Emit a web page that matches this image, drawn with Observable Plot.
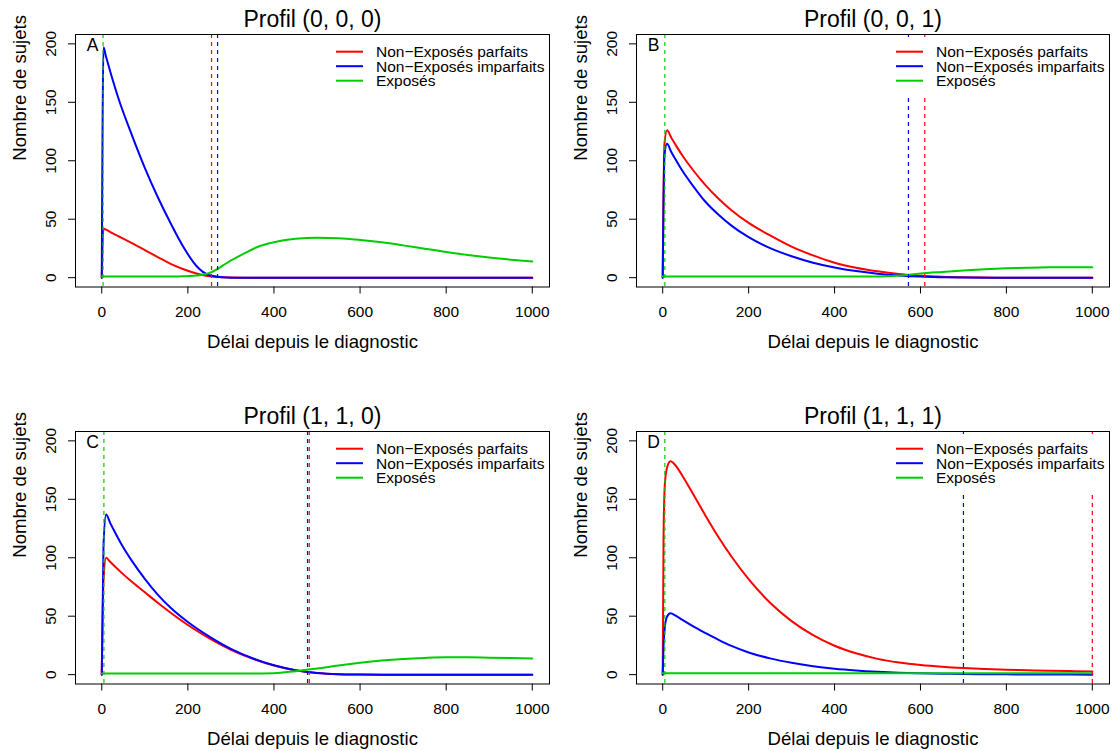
<!DOCTYPE html>
<html><head><meta charset="utf-8">
<script src="https://cdn.jsdelivr.net/npm/d3@7"></script>
<script src="https://cdn.jsdelivr.net/npm/@observablehq/plot@0.6"></script>
<style>
body{margin:0;background:#fff;width:1114px;height:751px;overflow:hidden;position:relative;font-family:"Liberation Sans",Arial,sans-serif}
.panel{position:absolute}
</style></head><body>
<script>
const seriesNames = ["Non\u2212Exposés parfaits", "Non\u2212Exposés imparfaits", "Exposés"];
const seriesColors = ["#ff0000", "#0000ff", "#00cd00"];
const panelTitles = ["Profil (0, 0, 0)", "Profil (0, 0, 1)", "Profil (1, 1, 0)", "Profil (1, 1, 1)"];
const panelLetters = ["A", "B", "C", "D"];
const xLabel = "Délai depuis le diagnostic";
const yLabel = "Nombre de sujets";
const xTicks = [0, 200, 400, 600, 800, 1000];
const yTicks = [0, 50, 100, 150, 200];

// Panel A : Profil (0, 0, 0)
const xA = [0, 4, 10, 20, 40, 70, 100, 130, 160, 190, 220, 250, 280, 300, 330, 360, 400, 450, 500, 550, 600, 650, 700, 750, 800, 850, 900, 950, 1000];
const redA = [0, 42, 41, 39, 35.2, 29.5, 23.6, 17.6, 11.8, 7.2, 3.6, 1.2, 0.3, 0.1, 0, 0, 0, 0, 0, 0, 0, 0, 0, 0, 0, 0, 0, 0, 0];
const blueA = [0, 197, 189, 176, 152, 122, 94, 69, 46.5, 26, 10, 2, 0.3, 0, 0, 0, 0, 0, 0, 0, 0, 0, 0, 0, 0, 0, 0, 0, 0];
const greenA = [1, 1, 1, 1, 1, 1, 1, 1, 1, 1.1, 1.8, 4, 10, 14.7, 20.5, 26, 30.3, 33.2, 34.2, 33.8, 32.3, 30.2, 27.6, 24.8, 22, 19.4, 17.2, 15.4, 13.9];
const cutsA = [255, 269, 3]; // parfaits, imparfaits, exposés

// Panel B : Profil (0, 0, 1)
const xB = [0, 4, 10, 20, 30, 45, 70, 100, 130, 160, 200, 250, 300, 350, 400, 450, 500, 550, 600, 650, 700, 750, 800, 850, 900, 950, 1000];
const redB = [0, 114, 126, 119.6, 113.6, 104.9, 92.3, 78.9, 67.5, 57.7, 46.8, 36.1, 26.5, 19, 12.8, 8.5, 5.4, 3.1, 1.6, 0.7, 0.25, 0.05, 0, 0, 0, 0, 0];
const blueB = [0, 104, 114.5, 107.5, 101, 91.8, 78.8, 64.7, 53.8, 44.5, 34.6, 25.2, 18.3, 12.8, 8.7, 5.6, 3.4, 1.9, 0.9, 0.4, 0.1, 0, 0, 0, 0, 0, 0];
const greenB = [1, 1, 1, 1, 1, 1, 1, 1, 1, 1, 1, 1, 1, 1, 1, 1, 1, 1.8, 3.6, 4.9, 6.1, 7.2, 8, 8.5, 8.8, 8.9, 8.9];
const cutsB = [610, 572, 5];

// Panel C : Profil (1, 1, 0)
const xC = [0, 4, 10, 20, 30, 45, 70, 100, 130, 160, 200, 250, 300, 350, 400, 450, 500, 550, 600, 650, 700, 750, 800, 850, 900, 950, 1000];
const redC = [0, 80, 100, 96.3, 92.7, 87.5, 79.4, 70.5, 61.5, 53, 42.5, 31, 21.3, 13.7, 7.8, 3.7, 1.4, 0.4, 0.1, 0, 0, 0, 0, 0, 0, 0, 0];
const blueC = [0, 110, 137, 129.4, 122.2, 112, 97.3, 82, 68.5, 57.2, 45, 32.5, 22, 14, 8, 3.8, 1.4, 0.4, 0.1, 0, 0, 0, 0, 0, 0, 0, 0];
const greenC = [1, 1, 1, 1, 1, 1, 1, 1, 1, 1, 1, 1, 1, 1, 1.2, 3, 5.2, 7.8, 10.1, 12, 13.4, 14.3, 14.8, 14.8, 14.5, 14.2, 13.9];
const cutsC = [482, 478, 5];

// Panel D : Profil (1, 1, 1)
const xD = [0, 2, 5, 10, 18, 30, 45, 70, 100, 130, 160, 200, 250, 300, 350, 400, 450, 500, 550, 600, 650, 700, 750, 800, 850, 900, 950, 1000];
const redD = [0, 120, 163, 177, 182.5, 178.9, 170.6, 155, 135.8, 117.6, 101.1, 81.7, 61.5, 45.75, 33.75, 24.75, 18.25, 13.5, 10.4, 8.3, 6.8, 5.7, 4.9, 4.25, 3.75, 3.35, 3.05, 2.8];
const blueD = [0, 25, 41, 49.5, 52.5, 50.5, 47, 41.5, 35.5, 29.8, 24.6, 19, 13.9, 10.1, 7.2, 5.1, 3.6, 2.5, 1.7, 1.2, 0.8, 0.5, 0.35, 0.25, 0.15, 0.1, 0.05, 0];
const greenD = [1.3, 1.3, 1.3, 1.3, 1.3, 1.3, 1.3, 1.3, 1.3, 1.3, 1.3, 1.3, 1.3, 1.3, 1.3, 1.3, 1.3, 1.3, 1.3, 1.3, 1.3, 1.3, 1.3, 1.3, 1.3, 1.3, 1.3, 1.3];
const cutsD = [1000, 700, 5];

const panels = [
  {x: xA, series: [redA, blueA, greenA], cuts: cutsA, col: 0, row: 0},
  {x: xB, series: [redB, blueB, greenB], cuts: cutsB, col: 1, row: 0},
  {x: xC, series: [redC, blueC, greenC], cuts: cutsC, col: 0, row: 1},
  {x: xD, series: [redD, blueD, greenD], cuts: cutsD, col: 1, row: 1}
];

const FONT = '"Liberation Sans", Arial, Helvetica, sans-serif';

panels.forEach((p, k) => {
  const W = 557;
  const ml = p.col === 0 ? 75 : 79, mr = p.col === 0 ? 8 : 5;
  const H = p.row === 0 ? 397 : 354;
  const mt = 34, mb = H - 286.5;
  const rows = [];
  p.series.forEach((vals, i) => vals.forEach((v, j) => rows.push({x: p.x[j], y: v, s: seriesNames[i]})));
  const cuts = p.cuts.map((c, i) => ({x: c, s: seriesNames[i]}));
  const svg = Plot.plot({
    width: W, height: H,
    marginLeft: ml, marginRight: mr, marginTop: mt, marginBottom: mb,
    x: {domain: [-61, 1040]},
    y: {domain: [-8, 208]},
    color: {domain: seriesNames, range: seriesColors},
    style: {fontFamily: FONT, fontSize: "15.5px", color: "#000", background: "#fff", overflow: "visible"},
    marks: [
      Plot.line(rows, {x: "x", y: "y", z: "s", stroke: "s", strokeWidth: 2, curve: "monotone-x"}),
      Plot.ruleX(cuts, {x: "x", stroke: "s", strokeWidth: 1.2, strokeDasharray: "4,4"}),
      Plot.axisX({ticks: xTicks, tickSize: 7, tickPadding: 12, tickFormat: d => String(d), fontSize: 15.5, label: null, stroke: "#000"}),
      Plot.axisY({ticks: yTicks, tickSize: 7, tickFormat: () => "", label: null, stroke: "#000"}),
      Plot.text(yTicks, {y: d => d, frameAnchor: "left", dx: -24.6, rotate: -90, text: d => String(d), textAnchor: "middle", lineAnchor: "middle", fontSize: 15.5, fill: "#000"}),
      Plot.frame({stroke: "#000", strokeWidth: 1}),
      Plot.text([panelTitles[k]], {frameAnchor: "top", dy: -15, lineAnchor: "middle", text: d => d, fontSize: 23, fill: "#000"}),
      Plot.text([xLabel], {frameAnchor: "bottom", dy: 55, lineAnchor: "middle", text: d => d, fontSize: 18.6, fill: "#000"}),
      Plot.text([yLabel], {frameAnchor: "left", dx: -55, rotate: -90, lineAnchor: "middle", text: d => d, fontSize: 18.6, fill: "#000"}),
      Plot.text([panelLetters[k]], {frameAnchor: "top-left", dx: 17, dy: 11, lineAnchor: "middle", text: d => d, textAnchor: "middle", fontSize: 17.5, fill: "#000"})
    ]
  });
  // legend (white background, no border), top-right of the plot region
  const s = d3.select(svg);
  const right = W - mr, top = mt;
  const g = s.append("g").attr("text-anchor", "start");
  g.append("rect").attr("x", right - 226).attr("y", top + 3).attr("width", 225).attr("height", 58).attr("fill", "#fff");
  seriesNames.forEach((n, i) => {
    const y = top + 17.7 + i * 14.5;
    g.append("line").attr("x1", right - 213).attr("x2", right - 186).attr("y1", y).attr("y2", y)
      .attr("stroke", seriesColors[i]).attr("stroke-width", 2);
    g.append("text").attr("x", right - 173).attr("y", y).attr("dy", "0.35em")
      .attr("text-anchor", "start")
      .attr("font-size", 15.5).attr("font-family", FONT).attr("fill", "#000").text(n);
  });
  const div = document.createElement("div");
  div.className = "panel";
  div.style.left = (p.col * 557) + "px";
  div.style.top = (p.row * 397) + "px";
  div.appendChild(svg);
  document.body.appendChild(div);
});
</script>
</body></html>
